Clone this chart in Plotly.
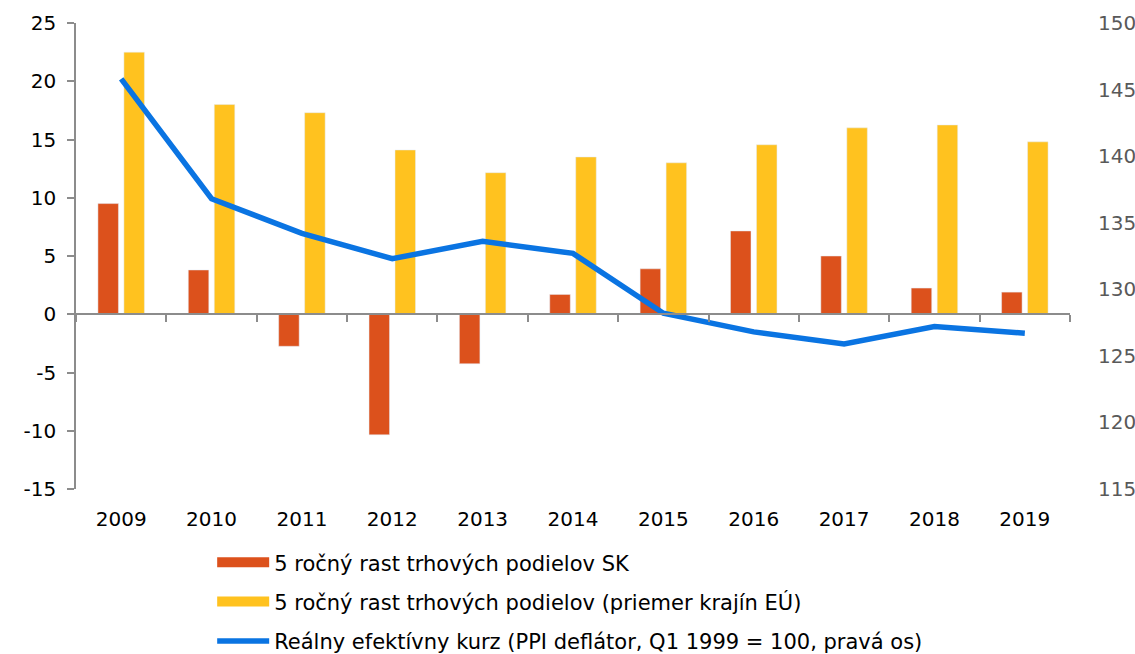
import plotly.graph_objects as go

years = ['2009', '2010', '2011', '2012', '2013', '2014', '2015', '2016', '2017', '2018', '2019']
sk_growth = [9.5, 3.8, -2.75, -10.35, -4.25, 1.7, 3.9, 7.15, 5.0, 2.25, 1.9]
eu_growth = [22.5, 18.0, 17.3, 14.1, 12.15, 13.5, 13.0, 14.55, 16.0, 16.25, 14.8]
reer = [145.8, 136.8, 134.2, 132.3, 133.6, 132.7, 128.2, 126.8, 125.9, 127.2, 126.7]
left_ticks = [-15, -10, -5, 0, 5, 10, 15, 20, 25]
left_labels = ['-15', '-10', '-5', '0', '5', '10', '15', '20', '25']
right_ticks = [115, 120, 125, 130, 135, 140, 145, 150]

name_sk = '5 ročný rast trhových podielov SK'
name_eu = '5 ročný rast trhových podielov (priemer krajín EÚ)'
name_reer = 'Reálny efektívny kurz (PPI deflátor, Q1 1999 = 100, pravá os)'

RED = '#DC511C'
YEL = '#FFC21F'
BLUE = '#0A74E2'
AX = '#8C8C8C'
FONT = 'DejaVu Sans'
FS = 20
LFS = 21

fig = go.Figure()
fig.add_trace(go.Bar(x=years, y=sk_growth, name=name_sk, marker_color=RED,
                     showlegend=False))
fig.add_trace(go.Bar(x=years, y=eu_growth, name=name_eu, marker_color=YEL,
                     showlegend=False))
fig.add_trace(go.Scatter(x=years, y=reer, name=name_reer, mode='lines',
                         line=dict(color=BLUE, width=5.5), yaxis='y2',
                         legendgroup='c', legendrank=3))
# legend-only entries for the bars (wide rectangular swatches)
fig.add_trace(go.Scatter(x=[None], y=[None], name=name_sk, mode='lines',
                         line=dict(color=RED, width=13), xaxis='x3',
                         legendgroup='a', legendrank=1))
fig.add_trace(go.Scatter(x=[None], y=[None], name=name_eu, mode='lines',
                         line=dict(color=YEL, width=13), xaxis='x3',
                         legendgroup='b', legendrank=2))

fig.update_layout(
    width=1135, height=654,
    margin=dict(l=76, r=65, t=23, b=165),
    paper_bgcolor='white', plot_bgcolor='white',
    font=dict(family=FONT, size=FS, color='#000000'),
    barmode='group', bargap=0.425, bargroupgap=0.21,
    xaxis=dict(type='category', range=[-0.5, 10.5], anchor='free', position=0.375,
               showline=True, linecolor=AX, linewidth=1.5,
               ticks='outside', tickson='boundaries', ticklen=7, tickcolor=AX,
               tickwidth=1.5, showticklabels=False, showgrid=False, zeroline=False),
    xaxis3=dict(overlaying='x', anchor='y', side='bottom', range=[-0.5, 10.5],
                tickmode='array', tickvals=list(range(len(years))), ticktext=years,
                showline=False, ticks='', showgrid=False, zeroline=False,
                ticklabelstandoff=16, automargin=False,
                tickfont=dict(size=FS, color='#000000')),
    yaxis=dict(range=[-15, 25], tickmode='array', tickvals=left_ticks,
               ticktext=left_labels, showline=True, linecolor=AX, linewidth=1.5,
               ticks='outside', ticklen=7, tickcolor=AX, tickwidth=1.5,
               showgrid=False, zeroline=False, ticklabelstandoff=7, automargin=False,
               tickfont=dict(size=FS, color='#000000')),
    yaxis2=dict(overlaying='y', side='right', range=[115, 150], tickmode='array',
                tickvals=right_ticks,
                showgrid=False, showline=False, ticks='', zeroline=False,
                ticklabelstandoff=27, automargin=False,
                tickfont=dict(size=FS, color='#595959')),
    legend=dict(orientation='v', x=0.137, xanchor='left',
                yref='container', y=0.171, yanchor='top',
                font=dict(size=LFS, color='#000000'), itemwidth=52,
                tracegroupgap=9, bgcolor='rgba(0,0,0,0)'),
)

fig.write_html('out.html', config={'displayModeBar': False},
               post_script="document.body.style.margin='0';document.body.style.overflow='hidden';")
